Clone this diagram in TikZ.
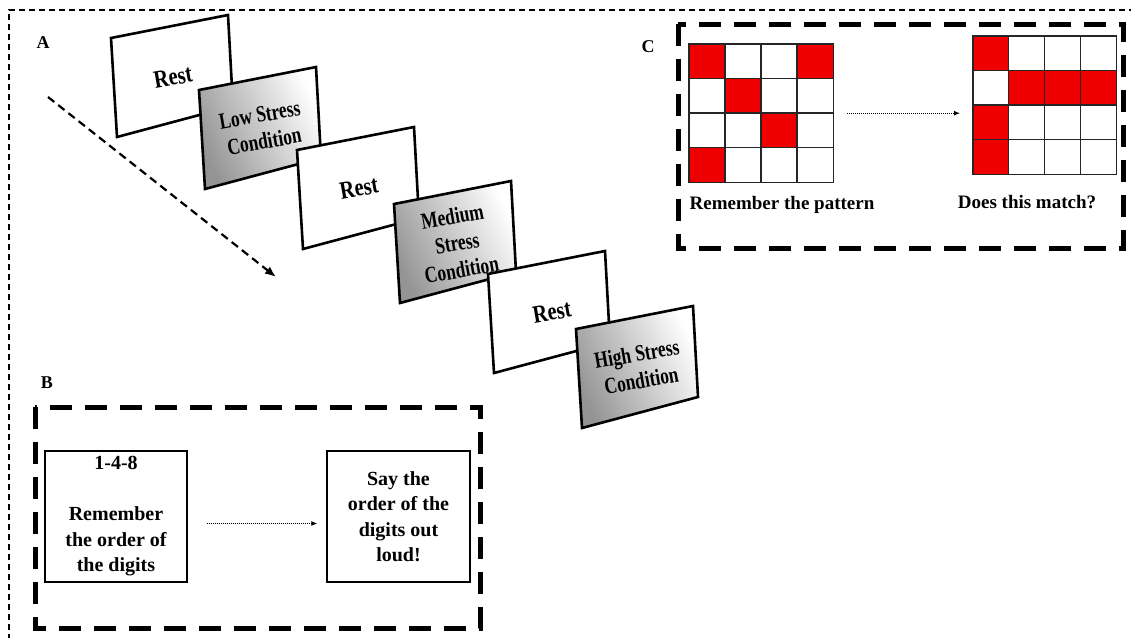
\documentclass[tikz,border=0pt]{standalone}
\usepackage{fontspec}
\setmainfont{Liberation Serif}
\usetikzlibrary{arrows.meta,calc}
\definecolor{cellred}{RGB}{238,0,0}
\tikzset{
  restcard/.style={draw=black, line width=2.6pt, line join=miter, fill=white},
  stresscard/.style={draw=black, line width=2.6pt, line join=miter, top color=white, bottom color=black!42, shading angle=-65},
  cardtext/.style={font=\fontsize{23}{27}\selectfont\bfseries, align=center, rotate=10, xscale=0.76, inner sep=0pt},
  resttext/.style={font=\fontsize{25}{27}\selectfont\bfseries, rotate=10, xscale=0.82, inner sep=0pt},
  panellabel/.style={font=\fontsize{18}{20}\selectfont\bfseries, inner sep=0pt},
  bigdash/.style={line width=5pt, dash pattern=on 22pt off 13pt},
  outerdash/.style={line width=1.3pt, dash pattern=on 6pt off 4pt},
  taskbox/.style={draw=black, line width=1.4pt, minimum height=131pt, inner sep=0pt, align=center, font=\fontsize{20}{25.5}\selectfont\bfseries},
  dotarrow/.style={line width=1pt, densely dotted, -{Latex[length=6pt,width=5pt]}},
  timearrow/.style={line width=2.2pt, dash pattern=on 8pt off 5pt, -{Latex[length=11pt,width=9pt]}},
  gridline/.style={draw=black!85, line width=1.4pt},
  caption/.style={font=\fontsize{19}{22}\selectfont\bfseries, inner sep=0pt},
}
\begin{document}
\begin{tikzpicture}[x=1pt,y=-1pt]
\useasboundingbox (0,0) rectangle (1131,637);
% outer frame
\coordinate (fbl) at (9,640);
\coordinate (ftl) at (9,10);
\coordinate (ftr) at (1134,10);
\draw[outerdash] (fbl) -- (ftl) -- (ftr);

% Panel A
\node[panellabel] (labA) at (43,43) {A};
\coordinate (as) at (48,97);
\coordinate (ae) at (276,277);
\draw[timearrow] (as) -- (ae);

\path[restcard] (111,38) -- ++(117,-23) -- ++(5,91) -- ++(-116,31) -- cycle;
\node[resttext] (rest1) at (173,77) {Rest};
\path[stresscard] (199,90) -- ++(117,-23) -- ++(5,91) -- ++(-116,31) -- cycle;
\node[cardtext] (low) at (262,128) {Low Stress\\Condition};
\path[restcard] (297,150) -- ++(117,-23) -- ++(5,91) -- ++(-116,31) -- cycle;
\node[resttext] (rest2) at (359,188) {Rest};
\path[stresscard] (394,204) -- ++(117,-23) -- ++(5,91) -- ++(-116,31) -- cycle;
\node[cardtext] (medium) at (457,243) {Medium\\Stress\\Condition};
\path[restcard] (488,274) -- ++(117,-23) -- ++(5,91) -- ++(-116,31) -- cycle;
\node[resttext] (rest3) at (552,312) {Rest};
\path[stresscard] (576,329) -- ++(117,-23) -- ++(5,91) -- ++(-116,31) -- cycle;
\node[cardtext] (high) at (639,367) {High Stress\\Condition};

% Panel B
\node[panellabel] (labB) at (47,383) {B};
\draw[bigdash] (35,407) rectangle (480,628);
\node[taskbox, minimum width=142pt] (b1) at (116,516.5) {1-4-8\\[25.5pt]Remember\\the order of\\the digits};
\node[taskbox, minimum width=143pt] (b2) at (398.5,516.5) {Say the\\order of the\\digits out\\loud!};
\draw[dotarrow] ($(b1.east)+(19,7)$) -- ($(b2.west)+(-9,7)$);

% Panel C
\node[panellabel] (labC) at (648,47) {C};
\draw[bigdash] (678,24) rectangle (1123,248);

\node[minimum width=144pt, minimum height=138pt, inner sep=0pt, anchor=north west] (g1) at (689,44) {};
\foreach \r/\c in {0/0,0/3,1/1,2/2,3/0}
  \fill[cellred] ($(g1.north west)+(\c*36,\r*34.5)$) rectangle ++(36,34.5);
\foreach \i in {1,2,3} {
  \draw[gridline] ($(g1.north west)+(\i*36,0)$) -- ++(0,138);
  \draw[gridline] ($(g1.north west)+(0,\i*34.5)$) -- ++(144,0);
}
\draw[gridline] (g1.north west) rectangle (g1.south east);

\node[minimum width=143pt, minimum height=138pt, inner sep=0pt, anchor=north west] (g2) at (973,36) {};
\foreach \r/\c in {0/0,1/1,1/2,1/3,2/0,3/0}
  \fill[cellred] ($(g2.north west)+(\c*35.75,\r*34.5)$) rectangle ++(35.75,34.5);
\foreach \i in {1,2,3} {
  \draw[gridline] ($(g2.north west)+(\i*35.75,0)$) -- ++(0,138);
  \draw[gridline] ($(g2.north west)+(0,\i*34.5)$) -- ++(143,0);
}
\draw[gridline] (g2.north west) rectangle (g2.south east);

\draw[dotarrow] ($(g1.east)+(14,0)$) -- ($(g1.east -| g2.west)+(-13,0)$);

\node[caption] (c1) at (782,205) {Remember the pattern};
\node[caption] (c2) at (1027,202) {Does this match?};
\end{tikzpicture}
\end{document}
